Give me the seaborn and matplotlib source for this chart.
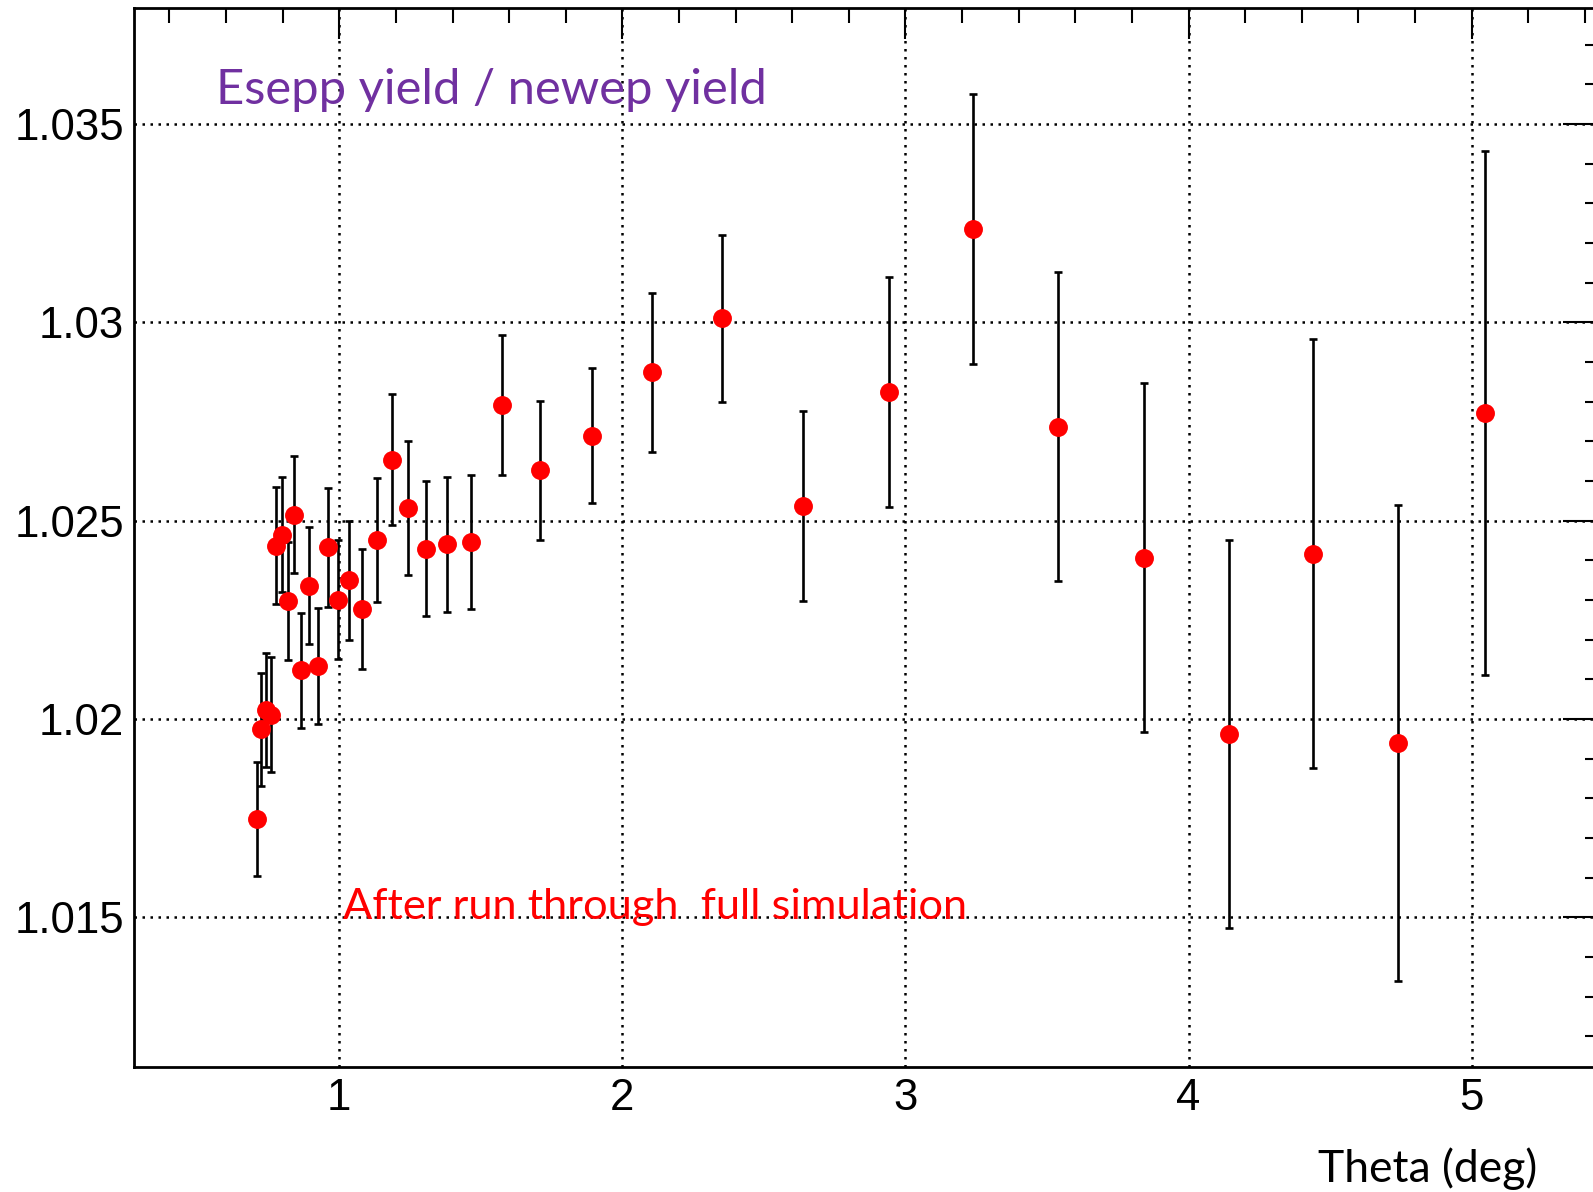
import matplotlib
matplotlib.use('Agg')
import matplotlib.pyplot as plt
from matplotlib.ticker import MultipleLocator, FixedLocator, FixedFormatter
import numpy as np
import pandas as pd
import seaborn as sns

# values
theta = [0.708, 0.725, 0.741, 0.758, 0.776, 0.796, 0.819, 0.840, 0.866, 0.894,
         0.926, 0.959, 0.995, 1.035, 1.082, 1.132, 1.186, 1.241, 1.306, 1.379,
         1.466, 1.574, 1.710, 1.893, 2.105, 2.352, 2.639, 2.940, 3.238, 3.539,
         3.841, 4.142, 4.440, 4.741, 5.046]
ratio = [1.01748, 1.01974, 1.02023, 1.02010, 1.02437, 1.02464, 1.02297, 1.02515, 1.02123, 1.02336,
         1.02134, 1.02433, 1.02300, 1.02350, 1.02277, 1.02451, 1.02654, 1.02532, 1.02429, 1.02440,
         1.02446, 1.02791, 1.02627, 1.02714, 1.02874, 1.03010, 1.02537, 1.02825, 1.03236, 1.02737,
         1.02406, 1.01962, 1.02417, 1.01939, 1.02771]
ratio_err = [0.00143, 0.00143, 0.00144, 0.00145, 0.00147, 0.00145, 0.00148, 0.00148, 0.00145, 0.00148,
             0.00147, 0.00150, 0.00150, 0.00150, 0.00152, 0.00157, 0.00166, 0.00170, 0.00170, 0.00170,
             0.00170, 0.00176, 0.00175, 0.00170, 0.00200, 0.00210, 0.00240, 0.00290, 0.00340, 0.00390,
             0.00440, 0.00490, 0.00540, 0.00600, 0.00660]

x_ticks = [1, 2, 3, 4, 5]
x_tick_labels = ['1', '2', '3', '4', '5']
y_ticks = [1.015, 1.02, 1.025, 1.03, 1.035]
y_tick_labels = ['1.015', '1.02', '1.025', '1.03', '1.035']

title_text = 'Esepp yield / newep yield'
note_text = 'After run through  full simulation'
x_label = 'Theta (deg)'

df = pd.DataFrame({'theta': theta, 'ratio': ratio, 'err': ratio_err})

sns.set_style('white')
plt.rcParams['font.family'] = ['Liberation Sans', 'DejaVu Sans']

fig = plt.figure(figsize=(15.93, 11.92), dpi=100)
ax = fig.add_axes([0.0843, 0.1051, 1.0088 - 0.0843, 0.99304 - 0.1051])

ax.errorbar(df['theta'], df['ratio'], yerr=df['err'], fmt='none', ecolor='black',
            elinewidth=1.9, capsize=3.2, capthick=1.9, zorder=2)
sns.scatterplot(data=df, x='theta', y='ratio', color='#ff0000', s=185, linewidth=0,
                ax=ax, zorder=3, legend=False)

ax.set_xlim(0.2759, 5.478)
ax.set_ylim(1.01123, 1.03792)

ax.xaxis.set_major_locator(FixedLocator(x_ticks))
ax.xaxis.set_major_formatter(FixedFormatter(x_tick_labels))
ax.yaxis.set_major_locator(FixedLocator(y_ticks))
ax.yaxis.set_major_formatter(FixedFormatter(y_tick_labels))
ax.xaxis.set_minor_locator(MultipleLocator(0.2))
ax.yaxis.set_minor_locator(MultipleLocator(0.001))

ax.tick_params(axis='both', which='both', direction='in', top=True, right=True,
               color='black', width=1.5, labelsize=31.5, labelcolor='black')
ax.tick_params(axis='x', which='major', length=22, pad=8)
ax.tick_params(axis='x', which='minor', length=11)
ax.tick_params(axis='y', which='major', length=32, pad=7.5)
ax.tick_params(axis='y', which='minor', length=16)

ax.grid(True, which='major', color='black', linestyle=(0, (1, 2.2)), linewidth=1.8)
for sp in ax.spines.values():
    sp.set_color('black')
    sp.set_linewidth(2.0)
ax.set_xlabel('')
ax.set_ylabel('')

fig.text(216 / 1593, 1 - 104 / 1192, title_text, color='#7030a0', fontsize=35.3,
         family=['Lato', 'DejaVu Sans'], ha='left', va='baseline')
fig.text(343 / 1593, 1 - 919.5 / 1192, note_text, color='#ff0000', fontsize=31.2,
         family=['Lato', 'DejaVu Sans'], ha='left', va='baseline')
fig.text(1537 / 1593, 1 - 1182 / 1192, x_label, color='black', fontsize=32,
         family=['Lato', 'DejaVu Sans'], ha='right', va='baseline')

fig.savefig('out.png', dpi=100)
